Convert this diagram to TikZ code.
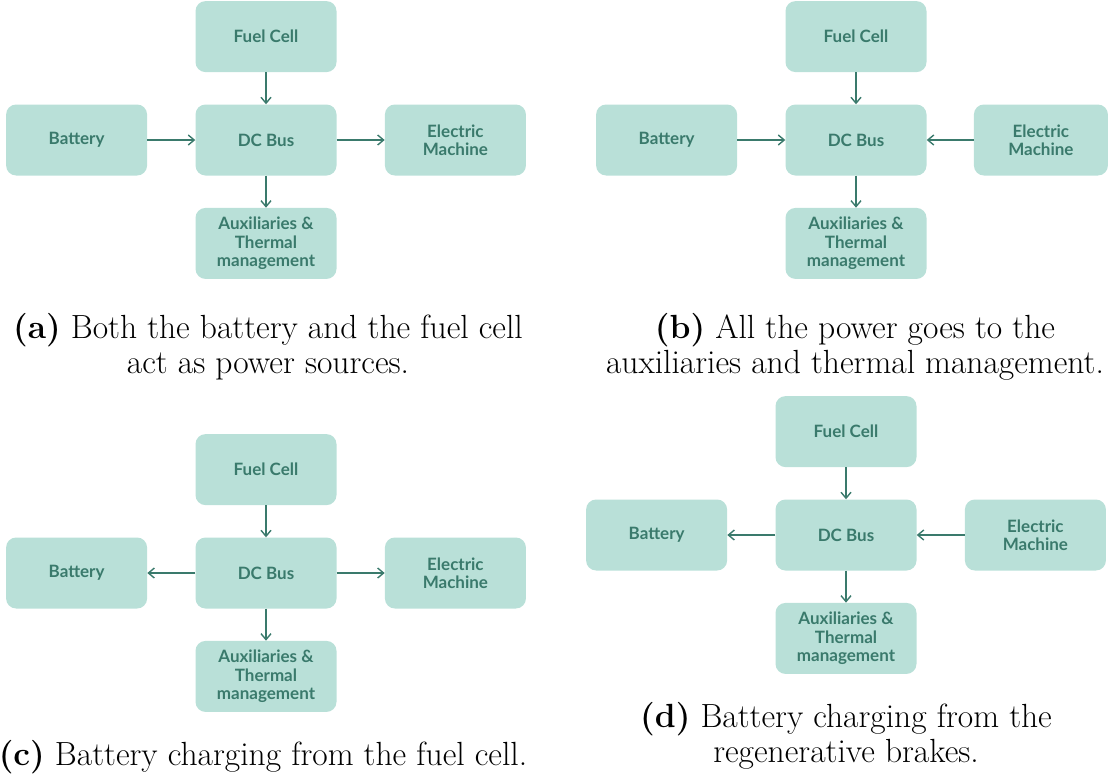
\documentclass[tikz,border=0pt]{standalone}
\usepackage{fontspec}
\usepackage{xcolor}
\usetikzlibrary{positioning,arrows.meta}

\newfontfamily\blockfont{Lato}
\definecolor{blockfill}{RGB}{185,224,216}
\definecolor{blocktext}{RGB}{58,122,108}

\begin{document}
\begin{tikzpicture}[
    x=1pt, y=-1pt,
    node distance=32pt and 48pt,
    block/.style={rectangle, rounded corners=10pt, fill=blockfill, minimum width=141pt, minimum height=71pt, align=center, text=blocktext, font=\blockfont\bfseries\fontsize{17}{18.5}\selectfont},
    flow/.style={-{Straight Barb[length=6pt,width=10pt]}, line width=1.4pt, draw=blocktext},
    subcap/.style={align=center, anchor=base, font=\fontsize{33.5}{34.5}\selectfont}
]
    \useasboundingbox (0,0) rectangle (1110,777);

    % (a) both sources
    \node[block] (busA) at (266,140) {DC Bus};
    \node[block, above=of busA] (fcA) {Fuel Cell};
    \node[block, left=of busA] (batA) {Battery};
    \node[block, right=of busA] (emA) {Electric\\Machine};
    \node[block, below=of busA] (auxA) {Auxiliaries \&\\Thermal\\management};
    \draw[flow] (fcA) -- (busA);
    \draw[flow] (batA) -- (busA);
    \draw[flow] (busA) -- (emA);
    \draw[flow] (busA) -- (auxA);
    \node[subcap] (capA) at (268,373) {\textbf{(a)} Both the battery and the fuel cell\\act as power sources.};

    % (b) everything to auxiliaries
    \node[block] (busB) at (856,140) {DC Bus};
    \node[block, above=of busB] (fcB) {Fuel Cell};
    \node[block, left=of busB] (batB) {Battery};
    \node[block, right=47pt of busB, minimum width=134pt] (emB) {Electric\\Machine};
    \node[block, below=of busB] (auxB) {Auxiliaries \&\\Thermal\\management};
    \draw[flow] (fcB) -- (busB);
    \draw[flow] (batB) -- (busB);
    \draw[flow] (emB) -- (busB);
    \draw[flow] (busB) -- (auxB);
    \node[subcap] (capB) at (855,373) {\textbf{(b)} All the power goes to the\\auxiliaries and thermal management.};

    % (c) charging from fuel cell
    \node[block] (busC) at (266,573) {DC Bus};
    \node[block, above=of busC] (fcC) {Fuel Cell};
    \node[block, left=of busC] (batC) {Battery};
    \node[block, right=of busC] (emC) {Electric\\Machine};
    \node[block, below=of busC] (auxC) {Auxiliaries \&\\Thermal\\management};
    \draw[flow] (fcC) -- (busC);
    \draw[flow] (busC) -- (batC);
    \draw[flow] (busC) -- (emC);
    \draw[flow] (busC) -- (auxC);
    \node[subcap] (capC) at (263,765) {\textbf{(c)} Battery charging from the fuel cell.};

    % (d) regenerative braking
    \node[block] (busD) at (846,535) {DC Bus};
    \node[block, above=of busD] (fcD) {Fuel Cell};
    \node[block, left=of busD] (batD) {Battery};
    \node[block, right=of busD] (emD) {Electric\\Machine};
    \node[block, below=of busD] (auxD) {Auxiliaries \&\\Thermal\\management};
    \draw[flow] (fcD) -- (busD);
    \draw[flow] (busD) -- (batD);
    \draw[flow] (emD) -- (busD);
    \draw[flow] (busD) -- (auxD);
    \node[subcap] (capD) at (846,762) {\textbf{(d)} Battery charging from the\\regenerative brakes.};

\end{tikzpicture}
\end{document}
